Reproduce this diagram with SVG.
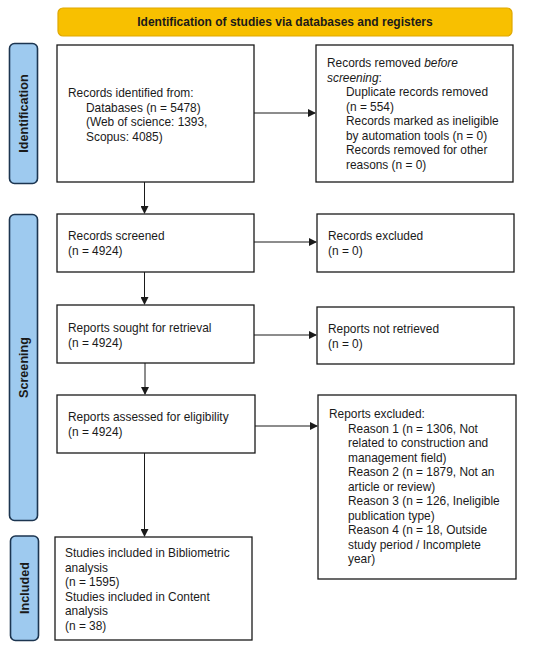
<svg xmlns="http://www.w3.org/2000/svg" width="550" height="649" viewBox="0 0 550 649">
<style>
.box{fill:#fff;stroke:#1a1a1a;stroke-width:1.3}
.side{fill:#9ecaef;stroke:#1c3550;stroke-width:1.6}
.t{font-family:"Liberation Sans",Arial,sans-serif;font-size:11.9px;fill:#1a1a1a}
.b{font-family:"Liberation Sans",Arial,sans-serif;font-size:12px;font-weight:bold;fill:#1a1a1a}
.s{font-family:"Liberation Sans",Arial,sans-serif;font-size:12.6px;font-weight:bold;fill:#1a1a1a}
.c{stroke:#1a1a1a;stroke-width:1;fill:none}
</style>
<defs>
<marker id="ah" markerWidth="8" markerHeight="8" refX="7" refY="4" orient="auto" markerUnits="userSpaceOnUse">
<path d="M0,0 L8,4 L0,8 z" fill="#1a1a1a"/>
</marker>
</defs>
<g id="banner">
<rect x="58" y="8" width="454" height="28" rx="5" fill="#f8c000" stroke="#e0a800" stroke-width="1.2"/>
<text class="b" x="285" y="26" text-anchor="middle">Identification of studies via databases and registers</text>
</g>
<g id="side-identification">
<rect class="side" x="9.5" y="43.5" width="28" height="140" rx="5"/>
<text class="s" transform="translate(28,113.5) rotate(-90)" text-anchor="middle">Identification</text>
</g>
<g id="side-screening">
<rect class="side" x="9.5" y="214.5" width="28" height="306" rx="5"/>
<text class="s" transform="translate(28,367.5) rotate(-90)" text-anchor="middle">Screening</text>
</g>
<g id="side-included">
<rect class="side" x="10.5" y="536" width="28" height="104.5" rx="5"/>
<text class="s" transform="translate(29,588) rotate(-90)" text-anchor="middle">Included</text>
</g>
<g id="records-identified">
<rect class="box" x="57" y="45" width="197" height="137"/>
<text class="t" x="68" y="97">Records identified from:</text>
<text class="t" x="86" y="111.5">Databases (n = 5478)</text>
<text class="t" x="86" y="126">(Web of science: 1393,</text>
<text class="t" x="86" y="140.5">Scopus: 4085)</text>
</g>
<g id="records-removed">
<rect class="box" x="316" y="45" width="197" height="137"/>
<text class="t" x="327" y="67">Records removed <tspan font-style="italic">before</tspan></text>
<text class="t" x="327" y="81.5"><tspan font-style="italic">screening</tspan>:</text>
<text class="t" x="346" y="96">Duplicate records removed</text>
<text class="t" x="346" y="110.5">(n = 554)</text>
<text class="t" x="346" y="125">Records marked as ineligible</text>
<text class="t" x="346" y="139.5">by automation tools (n = 0)</text>
<text class="t" x="346" y="154">Records removed for other</text>
<text class="t" x="346" y="168.5">reasons (n = 0)</text>
</g>
<g id="records-screened">
<rect class="box" x="57" y="214" width="197" height="58"/>
<text class="t" x="68" y="240">Records screened</text>
<text class="t" x="68" y="255">(n = 4924)</text>
</g>
<g id="records-excluded">
<rect class="box" x="317" y="214" width="197" height="58"/>
<text class="t" x="328" y="240">Records excluded</text>
<text class="t" x="328" y="255">(n = 0)</text>
</g>
<g id="reports-sought">
<rect class="box" x="57" y="305" width="197" height="58"/>
<text class="t" x="68" y="332">Reports sought for retrieval</text>
<text class="t" x="68" y="347">(n = 4924)</text>
</g>
<g id="reports-not-retrieved">
<rect class="box" x="317" y="307" width="197" height="57"/>
<text class="t" x="328" y="333">Reports not retrieved</text>
<text class="t" x="328" y="348">(n = 0)</text>
</g>
<g id="reports-assessed">
<rect class="box" x="57" y="395" width="198" height="58"/>
<text class="t" x="68" y="421">Reports assessed for eligibility</text>
<text class="t" x="68" y="436">(n = 4924)</text>
</g>
<g id="reports-excluded">
<rect class="box" x="318" y="395" width="198" height="184"/>
<text class="t" x="329" y="418">Reports excluded:</text>
<text class="t" x="348" y="432.5">Reason 1 (n = 1306, Not</text>
<text class="t" x="348" y="447">related to construction and</text>
<text class="t" x="348" y="461.5">management field)</text>
<text class="t" x="348" y="476">Reason 2 (n = 1879, Not an</text>
<text class="t" x="348" y="490.5">article or review)</text>
<text class="t" x="348" y="505">Reason 3 (n = 126, Ineligible</text>
<text class="t" x="348" y="519.5">publication type)</text>
<text class="t" x="348" y="534">Reason 4 (n = 18, Outside</text>
<text class="t" x="348" y="548.5">study period / Incomplete</text>
<text class="t" x="348" y="563">year)</text>
</g>
<g id="studies-included">
<rect class="box" x="55" y="537" width="197" height="103"/>
<text class="t" x="65" y="557">Studies included in Bibliometric</text>
<text class="t" x="65" y="571.5">analysis</text>
<text class="t" x="65" y="586">(n = 1595)</text>
<text class="t" x="65" y="600.5">Studies included in Content</text>
<text class="t" x="65" y="615">analysis</text>
<text class="t" x="65" y="629.5">(n = 38)</text>
</g>
<g id="connectors">
<line class="c" x1="254" y1="113" x2="315" y2="113" marker-end="url(#ah)"/>
<line class="c" x1="144.5" y1="182" x2="144.5" y2="213" marker-end="url(#ah)"/>
<line class="c" x1="254" y1="242" x2="316" y2="242" marker-end="url(#ah)"/>
<line class="c" x1="144.5" y1="272" x2="144.5" y2="304" marker-end="url(#ah)"/>
<line class="c" x1="254" y1="335" x2="316" y2="335" marker-end="url(#ah)"/>
<line class="c" x1="145" y1="363" x2="145" y2="394" marker-end="url(#ah)"/>
<line class="c" x1="255" y1="426" x2="317" y2="426" marker-end="url(#ah)"/>
<line class="c" x1="144.5" y1="453" x2="144.5" y2="536" marker-end="url(#ah)"/>
</g>
</svg>
